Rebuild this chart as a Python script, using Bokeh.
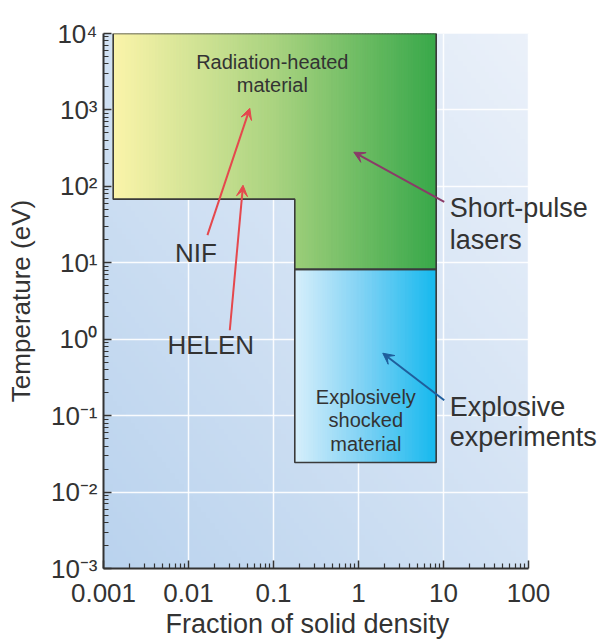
import numpy as np
from bokeh.plotting import figure
from bokeh.models import FixedTicker, Label, Arrow, VeeHead, Title
from bokeh.embed import file_html
from bokeh.resources import INLINE

# ---------------- data ----------------
x_ticks = [0.001, 0.01, 0.1, 1.0, 10.0, 100.0]
x_tick_labels = ["0.001", "0.01", "0.1", "1", "10", "100"]
y_ticks = [0.001, 0.01, 0.1, 1.0, 10.0, 100.0, 1000.0, 10000.0]
y_tick_labels = ["10\u207b\u00b3", "10\u207b\u00b2", "10\u207b\u00b9", "10\u2070",
                 "10\u00b9", "10\u00b2", "10\u00b3", "10\u2074"]

# radiation-heated region (L-shaped polygon)
rad_xs = [0.0013, 8.2, 8.2, 0.178, 0.178, 0.0013]
rad_ys = [10000.0, 10000.0, 8.2, 8.2, 68.0, 68.0]
# explosively shocked region (rectangle)
exp_xs = [0.178, 8.2, 8.2, 0.178]
exp_ys = [8.2, 8.2, 0.0244, 0.0244]

# annotation arrows: start -> end (data coords)
arrow_x0 = [0.0167, 0.0306, 10.2, 10.2]
arrow_y0 = [23.0, 1.31, 62.6, 0.159]
arrow_x1 = [0.0526, 0.0438, 0.881, 1.93]
arrow_y1 = [1050.0, 103.5, 280.0, 0.656]
arrow_colors = ["#E5484D", "#E5484D", "#8A3B68", "#1F5E9C"]

# labels
label_texts = ["Radiation-heated", "material", "NIF", "HELEN",
               "Short-pulse", "lasers", "Explosive", "experiments",
               "Explosively", "shocked", "material"]
label_x = [0.0968, 0.0968, 0.0122, 0.01827, 11.86, 11.86, 11.86, 11.86, 1.219, 1.219, 1.219]
label_y = [4212.0, 2107.0, 13.36, 0.834, 51.8, 19.7, 0.129, 0.0522, 0.174, 0.0871, 0.0424]
label_sizes = [20, 20, 26, 26, 27, 27, 27, 27, 20, 20, 20]
label_align = ["center", "center", "center", "center", "left", "left", "left", "left",
               "center", "center", "center"]

FONT = "Liberation Sans"
TXT = "#333333"

# ---------------- figure ----------------
# frame extends to the right page edge so the right-hand labels are not clipped;
# the axis itself is bounded to 0.001..100
x_view_max = 10 ** (np.log10(x_ticks[-1]) + 72.0 / 85.0)
p = figure(width=600, height=640, x_axis_type="log", y_axis_type="log",
           x_range=(x_ticks[0], x_view_max), y_range=(y_ticks[0], y_ticks[-1]),
           output_backend="svg", toolbar_location=None,
           min_border_left=103, min_border_right=0, min_border_top=33, min_border_bottom=72)
p.outline_line_color = None
p.background_fill_color = "white"
p.border_fill_color = "white"

# background diagonal gradient image (covers 0.001..100 only)
N = 96
u = np.linspace(0, 1, N)
v = np.linspace(0, 1, N)
U, V = np.meshgrid(u, v)
T = 0.5 * U + 0.5 * V
c_bl = np.array([186, 211, 238])
c_tr = np.array([235, 241, 250])
img = np.empty((N, N), dtype=np.uint32)
view = img.view(dtype=np.uint8).reshape((N, N, 4))
for k in range(3):
    view[:, :, k] = (c_bl[k] + (c_tr[k] - c_bl[k]) * T).astype(np.uint8)
view[:, :, 3] = 255
bg = p.image_rgba(image=[img], x=x_ticks[0], y=y_ticks[0],
                  dw=x_ticks[-1] - x_ticks[0], dh=y_ticks[-1] - y_ticks[0])
bg.level = "image"


def grad_color(t, stops):
    for (p0, c0), (p1, c1) in zip(stops[:-1], stops[1:]):
        if t <= p1:
            f = (t - p0) / (p1 - p0)
            c = [int(round(a + (b - a) * f)) for a, b in zip(c0, c1)]
            return "#%02x%02x%02x" % tuple(c)
    return "#%02x%02x%02x" % tuple(stops[-1][1])


def strips(x_left, x_right, bottom, top, gl, gr, n, stops):
    edges = np.logspace(np.log10(x_left), np.log10(x_right), n + 1)
    lefts, rights, cols = edges[:-1], edges[1:], []
    for a, b in zip(lefts, rights):
        mid = np.sqrt(a * b)
        t = (np.log10(mid) - np.log10(gl)) / (np.log10(gr) - np.log10(gl))
        cols.append(grad_color(t, stops))
    p.quad(left=lefts, right=rights, bottom=[bottom] * n, top=[top] * n,
           fill_color=cols, line_color=cols, line_width=1)


green_stops = [(0.0, (251, 244, 170)), (0.5, (170, 211, 128)), (1.0, (56, 168, 74))]
blue_stops = [(0.0, (216, 239, 251)), (0.5, (124, 209, 244)), (1.0, (22, 185, 238))]

g_left, g_right = min(rad_xs), max(rad_xs)
g_step = rad_xs[3]
strips(g_left, g_step, rad_ys[4], rad_ys[0], g_left, g_right, 60, green_stops)
strips(g_step, g_right, rad_ys[2], rad_ys[0], g_left, g_right, 50, green_stops)
strips(min(exp_xs), max(exp_xs), min(exp_ys), max(exp_ys), min(exp_xs), max(exp_xs), 60, blue_stops)

p.patch(rad_xs, rad_ys, fill_color=None, line_color="#3a3a3a", line_width=1.6)
p.patch(exp_xs, exp_ys, fill_color=None, line_color="#3a3a3a", line_width=1.6)

# ---------------- axes ----------------
def minors(majors):
    out = []
    for m in majors[:-1]:
        out += [m * k for k in range(2, 10)]
    return out

p.xaxis.ticker = FixedTicker(ticks=x_ticks, minor_ticks=minors(x_ticks))
p.yaxis.ticker = FixedTicker(ticks=y_ticks, minor_ticks=minors(y_ticks))
p.xaxis.major_label_overrides = dict(zip(x_ticks, x_tick_labels))
p.yaxis.major_label_overrides = dict(zip(y_ticks, y_tick_labels))
p.xaxis.bounds = (x_ticks[0], x_ticks[-1])
for ax in (p.xaxis, p.yaxis):
    ax.axis_line_color = "#333333"
    ax.axis_line_width = 2
    ax.major_tick_line_color = "#333333"
    ax.minor_tick_line_color = "#333333"
    ax.major_tick_line_width = 1.5
    ax.minor_tick_line_width = 1.2
    ax.major_tick_in = 8
    ax.major_tick_out = 0
    ax.minor_tick_in = 5
    ax.minor_tick_out = 0
    ax.major_label_text_font = FONT
    ax.major_label_text_font_size = "26px"
    ax.major_label_text_color = TXT
p.xaxis.major_label_standoff = 15
p.yaxis.major_label_standoff = 6

p.yaxis.axis_label = "Temperature (eV)"
p.yaxis.axis_label_text_font = FONT
p.yaxis.axis_label_text_font_size = "26px"
p.yaxis.axis_label_text_font_style = "normal"
p.yaxis.axis_label_text_color = TXT
p.yaxis.axis_label_standoff = 12

p.add_layout(Title(text="Fraction of solid density", align="left", offset=62,
                   standoff=4, text_font=FONT, text_font_size="27px",
                   text_font_style="normal", text_color=TXT), "below")

p.grid.grid_line_color = "white"
p.grid.grid_line_width = 1.5
p.grid.grid_line_alpha = 0.9

# ---------------- annotations ----------------
for x0, y0, x1, y1, c in zip(arrow_x0, arrow_y0, arrow_x1, arrow_y1, arrow_colors):
    p.add_layout(Arrow(x_start=x0, y_start=y0, x_end=x1, y_end=y1,
                       line_color=c, line_width=2,
                       end=VeeHead(size=11, fill_color=c, line_color=c, line_width=1)))

for t, x, y, s, a in zip(label_texts, label_x, label_y, label_sizes, label_align):
    p.add_layout(Label(x=x, y=y, text=t, text_font=FONT, text_font_size="%dpx" % s,
                       text_color=TXT, text_align=a, text_baseline="alphabetic"))

open("out.html", "w").write(file_html(p, INLINE))
